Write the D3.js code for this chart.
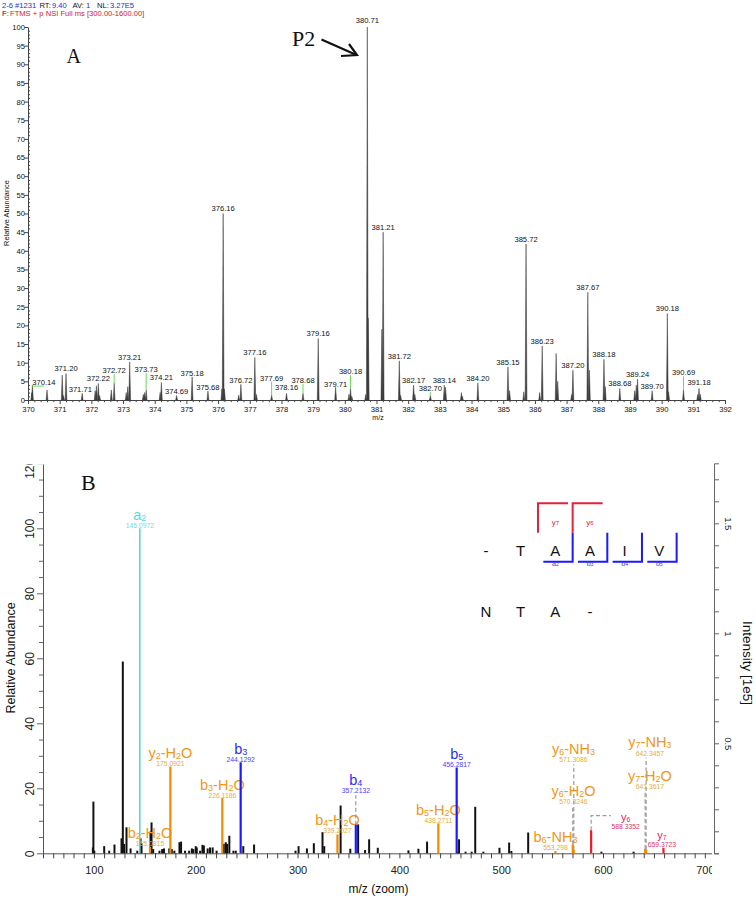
<!DOCTYPE html>
<html><head><meta charset="utf-8">
<script src="https://cdn.jsdelivr.net/npm/d3@7/dist/d3.min.js"></script>
<style>html,body{margin:0;padding:0;background:#fff}svg{display:block;font-family:"Liberation Sans",Arial,sans-serif}</style>
</head><body>
<svg id="chart" width="756" height="900"></svg>
<script>
// ================= DATA : panel A (full MS, m/z 370-392) =================
const headerParts = ["2-6 #1231", "RT:", "9.40", "AV:", "1", "NL:", "3.27E5"];
const scanFilterLabel = "F:";
const scanFilter = "FTMS + p NSI Full ms [300.00-1600.00]";
const aXTicks = [370,371,372,373,374,375,376,377,378,379,380,381,382,383,384,385,386,387,388,389,390,391,392];
const aYTicks = [0,5,10,15,20,25,30,35,40,45,50,55,60,65,70,75,80,85,90,95,100];
const peaksAMz = [370.12,370.14,370.60,371.08,371.12,371.20,371.71,372.12,372.16,372.22,372.26,372.63,372.72,
  373.10,373.15,373.21,373.64,373.68,373.73,374.17,374.21,374.69,375.18,375.68,376.12,376.16,376.20,376.65,376.72,
  377.16,377.21,377.69,378.16,378.68,379.16,379.71,380.13,380.18,380.22,380.66,380.71,380.74,381.17,381.21,381.72,381.76,
  382.17,382.21,382.70,383.14,383.18,383.68,383.71,384.20,385.15,385.20,385.65,385.72,386.15,386.23,386.67,386.72,
  387.16,387.20,387.67,387.72,388.18,388.22,388.68,389.15,389.20,389.24,389.70,390.18,390.22,390.69,391.14,391.18,391.22];
const peaksAInt = [2.0,4.0,2.7,6.7,1.2,7.1,1.8,2.5,3.8,4.4,1.2,2.7,4.5,
  2.0,3.6,10.2,1.5,2.0,2.7,2.0,4.7,1.2,6.2,2.4,3.0,50,3.0,1.3,4.2,
  11.4,1.5,1.3,1.8,1.8,16.5,3.4,1.5,3.1,1.0,1.5,100,22,19,45,10.5,1.3,
  4.0,1.5,1.2,4.0,3.4,2.0,1.0,4.6,8.9,2.5,2.2,41.8,2.0,14.5,12.5,5.0,
  1.5,8.0,28.9,8.0,10.9,3.6,3.1,2.5,4.0,5.6,2.5,23.2,2.2,2.7,1.5,3.1,1.5];
const labelsAText = ["370.14","371.20","371.71","372.22","372.72","373.21","373.73","374.21","374.69","375.18","375.68",
  "376.16","376.72","377.16","377.69","378.16","378.68","379.16","379.71","380.18","380.71","381.21","381.72","382.17",
  "382.70","383.14","384.20","385.15","385.72","386.23","387.20","387.67","388.18","388.68","389.24","389.70","390.18","390.69","391.18"];
const labelsACenter = [370.50,371.20,371.65,372.22,372.72,373.21,373.73,374.21,374.69,375.18,375.68,
  376.16,376.72,377.16,377.69,378.16,378.68,379.16,379.71,380.18,380.71,381.21,381.72,382.17,
  382.70,383.14,384.20,385.15,385.72,386.23,387.20,387.67,388.18,388.68,389.24,389.70,390.18,390.69,391.18];
const labelsALevel = [4.0,7.8,2.1,5.0,7.2,10.7,7.5,5.4,1.6,6.4,2.8,
  50.6,4.6,12.1,5.2,2.7,4.6,17.2,3.6,7.0,101,45.6,10.9,4.6,
  2.4,4.6,5.2,9.4,42.4,14.9,8.6,29.5,11.5,3.75,6.2,2.9,23.9,6.6,3.9];

// ================= DATA : panel B (MS/MS) =================
const bXTicks = [100,200,300,400,500,600,700];
const bYTicks = [0,20,40,60,80,100,120];
const bRTicks = [0.5,1,1.5];
const peaksBMz = [99.0,99.5,100.4,110.1,115,120.2,127.1,128.4,129.7,132,136,142.6,145.8,146.8,155.6,156.6,158.2,164.4,167,168.8,
  174,176.5,179,184,185.6,189.5,193.5,196.2,197.6,200,201,204.3,206.6,208,211.7,214,216.6,220.5,227.5,229.5,230.8,233,237,239.3,
  246.7,257.3,298,301,309.2,316,324.5,326.2,342.3,351.8,359.5,366.3,370.3,378.8,408.9,418.7,427.2,457.4,458.6,465,471,474.5,
  482.5,498.3,507.8,510,526.5,598.4,630];
const peaksBInt = [1.8,15.9,0.8,2.2,0.8,2.7,4.6,59,2.9,8,1.5,0.8,4.6,2.9,6.7,9.5,1.3,0.8,1.3,1.5,
  1.5,1.3,0.8,3.4,3.6,0.8,0.8,1.5,1.3,2.2,1.8,0.8,2.6,2.4,1.5,1.8,1.8,0.8,2.9,3.4,2.9,5.4,0.8,0.8,
  2.2,2.7,0.8,2.2,1.5,3.1,6.5,2.2,14.7,1.4,8.9,1.0,4.3,1.7,0.9,1.4,3.6,0.4,4.3,0.5,0.5,14.3,
  0.5,1.7,3.3,0.7,6.4,0.5,0.5];
// annotated fragment ions
const ionSeries = ["a","b","y","b","b","b","b","b","b","b","y","y","y","y","y","y"];
const ionNumber = ["2","2","2","3","3","4","4","5","5","6","6","6","6","7","7","7"];
const ionLoss   = ["","H2O","H2O","H2O","","H2O","","H2O","","NH3","H2O","NH3","","H2O","NH3",""];
const ionMzText = ["145.0972","155.0815","175.0921","226.1186","244.1292","339.2027","357.2132","438.2711","456.2817",
  "553.298","570.3246","571.3086","588.3352","641.3617","642.3457","659.3723"];
const ionInt    = [100,2.0,26.7,17,28,5.8,8.8,9.2,26.4,0.7,2.8,1.0,7.1,1.4,1.2,1.7];
const ionLevel  = [100,2.2,26.8,17,28,6.2,18.5,9.3,26.5,0.9,15,28,7.3,19.6,30,1.8];
const ionLabelMz= [145.0972,155.0815,175.0921,226.1186,244.1292,339.2027,357.2132,438.2711,456.2817,
  553.298,571.0,571.0,622.3,646.0,646.0,657.8];
const ionKind   = ["a","loss","loss","loss","b","loss","b","loss","b","loss","loss","loss","y","loss","loss","y"];
// sequence coverage map
const seqRow1 = ["-","T","A","A","I","V"];
const seqRow2 = ["N","T","A","-"];
const bMapNames = ["a2","b3","b4","b5"];
const bMapAfter = [2,3,4,5];
const yMapNames = ["y7","y6"];
const yMapBefore = [2,3];

// ================= DRAWING =================
const svg = d3.select("#chart");
const defs = svg.append("defs");
const SERIF = '"Liberation Serif","Times New Roman",serif';

// ---------- Panel A ----------
const xA = d3.scaleLinear().domain([370, 392]).range([28, 725]);
const yA = d3.scaleLinear().domain([0, 100]).range([400, 27]);
const gA = svg.append("g");

const hx = [2, 39.5, 52, 72.5, 86, 97, 110];
const h1 = gA.append("text").attr("y", 7.5).attr("font-size", 7.6);
headerParts.forEach((t, i) => h1.append("tspan").attr("x", hx[i]).attr("fill", i % 2 === 0 ? "#2b2bd0" : "#111").text(t));
const h2 = gA.append("text").attr("y", 15.5).attr("font-size", 7.6);
h2.append("tspan").attr("x", 2).attr("fill", "#111").text(scanFilterLabel);
h2.append("tspan").attr("x", 10).attr("fill", "#d4142a").text(scanFilter);

// axes A
const axAx = gA.append("g").attr("transform", `translate(0,${yA(0)})`)
  .call(d3.axisBottom(xA).tickValues(d3.range(0, 111).map(i => 370 + i / 5)).tickSizeOuter(0)
    .tickFormat((d, i) => i % 5 === 0 ? String(aXTicks[i / 5]) : ""));
axAx.select(".domain").attr("stroke", "#444");
axAx.selectAll(".tick line").attr("stroke", "#444").attr("y2", (d, i) => i % 5 === 0 ? 4 : 2.2);
axAx.selectAll(".tick text").filter(function () { return this.textContent === ""; }).remove();
axAx.selectAll(".tick text").attr("y", 12).attr("dy", 0).attr("font-size", 7.6).attr("fill", "#111");
gA.append("text").attr("x", 378).attr("y", 419.5).attr("text-anchor", "middle").attr("font-size", 7).attr("fill", "#111").text("m/z");

const axAy = gA.append("g").attr("transform", `translate(${xA(370)},0)`)
  .call(d3.axisLeft(yA).tickValues(d3.range(0, 101)).tickSizeOuter(0)
    .tickFormat(d => aYTicks.includes(d) ? String(d) : ""));
axAy.select(".domain").attr("stroke", "#444");
axAy.selectAll(".tick line").attr("stroke", "#444").attr("x2", d => d % 5 === 0 ? -3.5 : 2);
axAy.selectAll(".tick text").filter(function () { return this.textContent === ""; }).remove();
axAy.selectAll(".tick text").attr("x", -3).attr("font-size", 7.6).attr("fill", "#111");
gA.append("text").attr("transform", "translate(8.5,213) rotate(-90)").attr("text-anchor", "middle")
  .attr("font-size", 7.4).attr("fill", "#111").text("Relative Abundance");

// peaks A (narrow profile peaks)
gA.append("g").selectAll("path").data(d3.range(peaksAMz.length)).join("path")
  .attr("d", i => { const x = xA(peaksAMz[i]); return `M${x - 0.9},${yA(0)}L${x},${yA(peaksAInt[i])}L${x + 0.9},${yA(0)}Z`; })
  .attr("fill", "#3c3c3c").attr("stroke", "#3c3c3c").attr("stroke-width", 0.5);

// labels A with green connectors
const gLab = gA.append("g");
labelsAText.forEach((t, i) => {
  const mz = +t;
  const pi = peaksAMz.indexOf(mz);
  const px = xA(mz), pyTop = yA(peaksAInt[pi]);
  const lx = xA(labelsACenter[i]), ly = yA(labelsALevel[i]);
  if (pyTop - ly > 4 || Math.abs(lx - px) > 4) {
    gLab.append("path").attr("d", `M${px},${pyTop}L${px},${ly + 1}L${lx},${ly + 1}`)
      .attr("fill", "none").attr("stroke", "#66dd55").attr("stroke-width", 1);
  }
  gLab.append("text").attr("x", lx).attr("y", ly).attr("text-anchor", "middle").attr("font-size", 7.6)
    .attr("fill", "#111").text(t);
});

// P2 annotation and panel letter
gA.append("text").attr("x", 66.5).attr("y", 62.7).attr("font-family", SERIF).attr("font-size", 20).attr("fill", "#111").text("A");
gA.append("text").attr("x", 292).attr("y", 45.5).attr("font-family", SERIF).attr("font-size", 22).attr("fill", "#111").text("P2");
gA.append("path").attr("d", "M321.5,39.5L356.5,55").attr("stroke", "#111").attr("stroke-width", 2.2).attr("fill", "none");
gA.append("path").attr("d", "M349,44L357,55L341,56").attr("stroke", "#111").attr("stroke-width", 2.2).attr("fill", "none");

// ---------- Panel B ----------
const xB = d3.scaleLinear().domain([50, 709]).range([43, 714]);
const yB = d3.scaleLinear().domain([0, 120]).range([853.3, 463.3]);
const yR = d3.scaleLinear().domain([0, 390 / 220]).range([853.3, 463.3]);
const gB = svg.append("g");

defs.append("clipPath").attr("id", "clipBL").append("rect").attr("x", 0).attr("y", 464.5).attr("width", 60).attr("height", 436);
defs.append("clipPath").attr("id", "clipBX").append("rect").attr("x", 0).attr("y", 840).attr("width", 712).attr("height", 60);

// left axis
const gBL = gB.append("g").attr("clip-path", "url(#clipBL)").append("g").attr("transform", `translate(${xB(50)},0)`)
  .call(d3.axisLeft(yB).tickValues(d3.range(0, 121, 5)).tickSizeOuter(0)
    .tickFormat(d => bYTicks.includes(d) ? String(d) : ""));
gBL.select(".domain").attr("stroke", "#555");
gBL.selectAll(".tick line").attr("stroke", "#666").attr("x2", d => d % 20 === 0 ? -6 : -4);
gBL.selectAll(".tick text").filter(function () { return this.textContent === ""; }).remove();
gBL.selectAll(".tick text").attr("transform", "rotate(-90)").attr("x", d => d === 120 ? -5 : 0).attr("y", -9).attr("dy", 0)
  .attr("text-anchor", "middle").attr("font-size", 12).attr("fill", "#222");
gB.append("text").attr("transform", "translate(15,658) rotate(-90)").attr("text-anchor", "middle")
  .attr("font-size", 12.5).attr("fill", "#111").text("Relative Abundance");

// bottom axis
const gBX = gB.append("g").attr("clip-path", "url(#clipBX)").append("g").attr("transform", `translate(0,${yB(0)})`)
  .call(d3.axisBottom(xB).tickValues(d3.range(50, 701, 10)).tickSizeOuter(0)
    .tickFormat(d => bXTicks.includes(d) ? String(d) : ""));
gBX.select(".domain").attr("stroke", "#555");
gBX.selectAll(".tick line").attr("stroke", "#444").attr("y2", 5);
gBX.selectAll(".tick text").filter(function () { return this.textContent === ""; }).remove();
gBX.selectAll(".tick text").attr("y", 21).attr("dy", 0).attr("font-size", 11).attr("fill", "#222");
gB.append("text").attr("x", 378.5).attr("y", 893).attr("text-anchor", "middle").attr("font-size", 12).attr("fill", "#111").text("m/z (zoom)");

// right axis
const gBR = gB.append("g").attr("transform", `translate(${xB(709)},0)`)
  .call(d3.axisRight(yR).tickValues(d3.range(0, 18).map(i => i / 10)).tickSizeOuter(0).tickSize(5)
    .tickFormat(d => bRTicks.includes(d) ? String(d) : ""));
gBR.select(".domain").attr("stroke", "#666");
gBR.selectAll(".tick line").attr("stroke", "#666");
gBR.selectAll(".tick text").filter(function () { return this.textContent === ""; }).remove();
gBR.selectAll(".tick text").attr("transform", "rotate(90)").attr("x", 0).attr("y", -11).attr("dy", 0)
  .attr("text-anchor", "middle").attr("font-size", 9.5).attr("fill", "#222");
gB.append("text").attr("transform", "translate(743,663) rotate(90)").attr("text-anchor", "middle")
  .attr("font-size", 13.5).attr("fill", "#111").text("Intensity [1e5]");

gB.append("text").attr("x", 81).attr("y", 490).attr("font-family", SERIF).attr("font-size", 22).attr("fill", "#111").text("B");

// black peaks
gB.append("g").selectAll("line").data(d3.range(peaksBMz.length)).join("line")
  .attr("x1", i => xB(peaksBMz[i])).attr("x2", i => xB(peaksBMz[i]))
  .attr("y1", yB(0)).attr("y2", i => yB(peaksBInt[i])).attr("stroke", "#111").attr("stroke-width", 2);

// annotated ions
const kindColor = {
  a: { bar: "#5ad6d6", name: "#5cd8d8", mz: "#72dede" },
  b: { bar: "#1a1aff", name: "#2a2aff", mz: "#4444ff" },
  y: { bar: "#ee1c24", name: "#dc2358", mz: "#e0326a" },
  loss: { bar: "#f08a00", name: "#f09618", mz: "#e6ad3c" }
};
const gI = gB.append("g");
ionMzText.forEach((t, i) => {
  const mz = +t, c = kindColor[ionKind[i]];
  const bx = xB(mz), bTop = yB(ionInt[i]);
  const lx = xB(ionLabelMz[i]), ly = yB(ionLevel[i]);
  // connectors
  if (ionKind[i] === "y" && Math.abs(lx - bx) > 10) {
    const ey = yB(ionInt[i] + 4.5);
    gI.append("path").attr("d", `M${bx},${bTop}L${bx},${ey}L${lx - 15},${ey}`).attr("fill", "none")
      .attr("stroke", "#9a9a9a").attr("stroke-width", 1.2).attr("stroke-dasharray", "4,2.5");
  } else if (bTop - ly > 6) {
    gI.append("line").attr("x1", bx).attr("x2", bx).attr("y1", bTop).attr("y2", ly + 2)
      .attr("stroke", "#9a9a9a").attr("stroke-width", 1.2).attr("stroke-dasharray", "4,2.5");
  }
  gI.append("line").attr("x1", bx).attr("x2", bx).attr("y1", yB(0)).attr("y2", bTop)
    .attr("stroke", c.bar).attr("stroke-width", ionKind[i] === "a" ? 1.6 : 2.2);
  // name with subscripts
  const nm = gI.append("text").attr("x", lx).attr("y", ly - 8.5).attr("text-anchor", "middle")
    .attr("font-size", ionKind[i] === "y" && ionLoss[i] === "" ? 11 : 14.5).attr("fill", c.name);
  nm.append("tspan").text(ionSeries[i]);
  nm.append("tspan").attr("font-size", "0.62em").attr("dy", 1).text(ionNumber[i]);
  if (ionLoss[i]) {
    const m = ionLoss[i].match(/^([A-Z]+?)(\d)([A-Z]*)$/);
    nm.append("tspan").attr("dy", -1).text("-" + m[1]);
    nm.append("tspan").attr("font-size", "0.62em").attr("dy", 1).text(m[2]);
    nm.append("tspan").attr("dy", -1).text(m[3]);
  }
  gI.append("text").attr("x", lx).attr("y", ly - 0.3).attr("text-anchor", "middle").attr("font-size", 6.8)
    .attr("fill", c.mz).text(t);
});

// sequence coverage map
const xS = d3.scalePoint().domain(d3.range(seqRow1.length)).range([486, 659.3]);
const step = xS.step();
const gS = gB.append("g");
seqRow1.forEach((s, i) => gS.append("text").attr("x", xS(i)).attr("y", 556).attr("text-anchor", "middle")
  .attr("font-size", 15).attr("fill", "#111").text(s));
seqRow2.forEach((s, i) => gS.append("text").attr("x", xS(i)).attr("y", 617).attr("text-anchor", "middle")
  .attr("font-size", 15).attr("fill", "#111").text(s));
const yTopBr = 503.3, yMidBr = 532.7, yBotBr = 561.7;
bMapNames.forEach((n, k) => {
  const i = bMapAfter[k], xm = xS(i) + step / 2;
  gS.append("path").attr("d", `M${xS(i) - 12},${yBotBr}L${xm},${yBotBr}L${xm},${yMidBr}`)
    .attr("fill", "none").attr("stroke", "#1a1aff").attr("stroke-width", 2);
  const t = gS.append("text").attr("x", xS(i)).attr("y", 565.5).attr("text-anchor", "middle").attr("font-size", 7).attr("fill", "#3a3aff");
  t.append("tspan").text(n[0]); t.append("tspan").attr("font-size", 5).text(n.slice(1));
});
yMapNames.forEach((n, k) => {
  const i = yMapBefore[k], xm = xS(i) - step / 2;
  gS.append("path").attr("d", `M${xm},${yMidBr}L${xm},${yTopBr}L${xm + 30},${yTopBr}`)
    .attr("fill", "none").attr("stroke", "#e8203a").attr("stroke-width", 2);
  const t = gS.append("text").attr("x", xS(i)).attr("y", 525).attr("text-anchor", "middle").attr("font-size", 8).attr("fill", "#d8204a");
  t.append("tspan").text(n[0]); t.append("tspan").attr("font-size", 6).text(n.slice(1));
});
</script>
</body></html>
